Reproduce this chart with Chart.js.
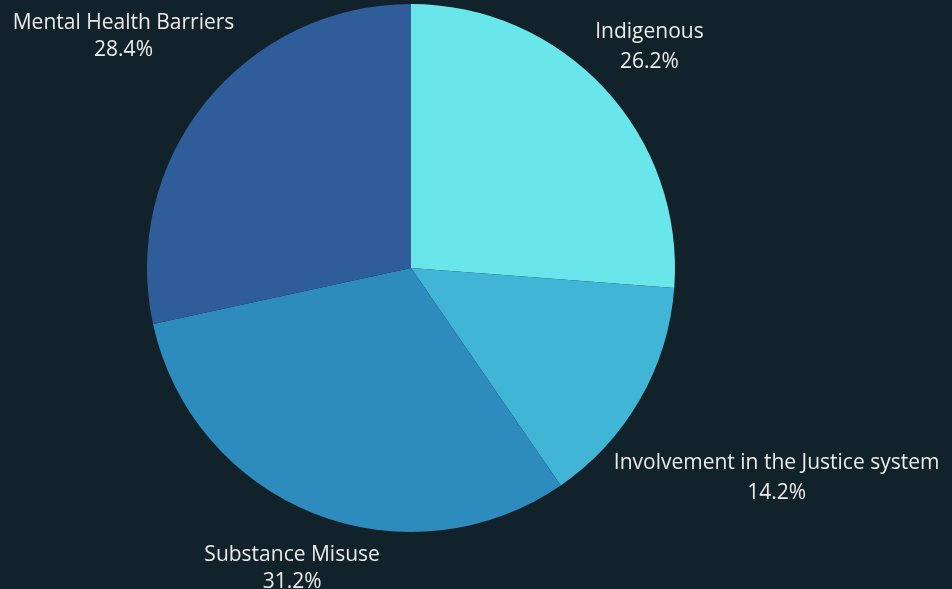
<!DOCTYPE html>
<html>
<head>
<meta charset="utf-8">
<script src="https://cdn.jsdelivr.net/npm/chart.js@4"></script>
<style>
  html, body { margin: 0; padding: 0; background: #12222a; }
  #wrap { width: 952px; height: 589px; position: relative; }
</style>
</head>
<body>
<div id="wrap"><canvas id="pieChart"></canvas></div>
<script>
var categories = ['Indigenous', 'Involvement in the Justice system', 'Substance Misuse', 'Mental Health Barriers'];
var shares = [26.2, 14.2, 31.2, 28.4];
var sliceColors = ['#68e6e9', '#40b5d6', '#2e8bbd', '#2e5d9a'];

// labels outside the pie, box centre pushed out along the slice's mid ray
var outerLabels = {
  id: 'outerLabels',
  afterDatasetsDraw: function (chart) {
    var ctx = chart.ctx;
    var meta = chart.getDatasetMeta(0);
    ctx.save();
    ctx.font = '21px "Open Sans"';
    ctx.fillStyle = '#ebebeb';
    ctx.textAlign = 'center';
    ctx.textBaseline = 'middle';
    meta.data.forEach(function (arc, i) {
      var p = arc.getProps(['x', 'y', 'startAngle', 'endAngle', 'outerRadius'], true);
      var mid = (p.startAngle + p.endAngle) / 2;
      var vx = Math.cos(mid), vy = Math.sin(mid);
      var lineH = vx < 0 ? 27 : 30;
      var lines = [categories[i], shares[i].toFixed(1) + '%'];
      var w = Math.max(ctx.measureText(lines[0]).width, ctx.measureText(lines[1]).width);
      var h = lineH + 24;
      var d = p.outerRadius + 3 + Math.abs(vx) * w / 2 + Math.abs(vy) * h / 2;
      var cx = p.x + vx * d;
      var cy = p.y + vy * d;
      ctx.fillText(lines[0], cx, cy - lineH / 2);
      ctx.fillText(lines[1], cx, cy + lineH / 2);
    });
    ctx.restore();
  }
};

var ctx = document.getElementById('pieChart');
var myChart = new Chart(ctx, {
  type: 'pie',
  data: {
    labels: categories,
    datasets: [{
      data: shares,
      backgroundColor: sliceColors,
      borderWidth: 0
    }]
  },
  options: {
    responsive: true,
    maintainAspectRatio: false,
    animation: false,
    layout: {
      padding: { left: 147, right: 277, top: 4, bottom: 57 }
    },
    plugins: {
      legend: { display: false },
      tooltip: { enabled: false }
    }
  },
  plugins: [outerLabels]
});
</script>
</body>
</html>
